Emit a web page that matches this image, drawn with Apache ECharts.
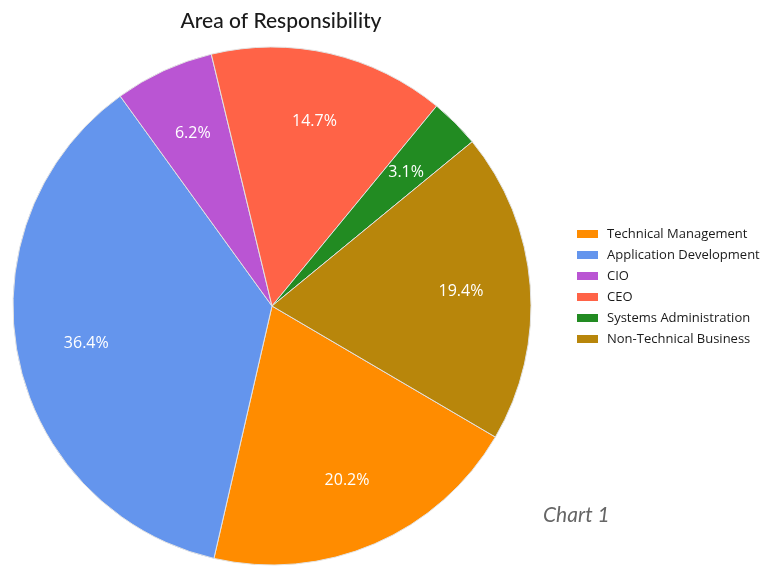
<!DOCTYPE html>
<html><head><meta charset="utf-8">
<script src="https://cdn.jsdelivr.net/npm/echarts@6/dist/echarts.min.js"></script>
<style>html,body{margin:0;padding:0;background:#fff}#c{width:780px;height:567px}</style>
</head><body><div id="c"></div>
<script>
const categories = ['Technical Management','Application Development','CIO','CEO','Systems Administration','Non-Technical Business'];
const counts = [26, 47, 8, 19, 4, 25];
const colors = ['#ff8c00','#6495ed','#ba55d3','#ff6347','#228b22','#b8860b'];
const titleText = 'Area of Responsibility';
const noteText = 'Chart 1';

const data = categories.map((n, i) => ({ name: n, value: counts[i] }));
const chart = echarts.init(document.getElementById('c'));
const center = [272, 306];
const R = 259;
chart.setOption({
  animation: false,
  color: colors,
  title: {
    text: titleText, left: 276, top: 6, textAlign: 'center',
    textStyle: { fontFamily: 'Lato', fontSize: 21, fontWeight: 500, color: '#1a1a1a' }
  },
  graphic: [{
    type: 'text', left: 543, top: 505,
    style: { text: noteText, font: 'italic 21px Lato', fill: '#666' }
  }],
  legend: {
    orient: 'vertical', left: 577, top: 227, padding: 0,
    icon: 'rect', itemWidth: 21, itemHeight: 8, itemGap: 7,
    itemStyle: { borderWidth: 0 },
    data: categories,
    textStyle: { fontFamily: 'Open Sans', fontSize: 13, fontWeight: 500, lineHeight: 14, color: '#1a1a1a', padding: [0,0,0,4] }
  },
  series: [{
    type: 'pie', center: center, radius: [0, R], startAngle: -30.4, clockwise: true,
    data: data, percentPrecision: 1,
    itemStyle: { borderColor: '#e2e2e2', borderWidth: 1 },
    label: { show: false }, labelLine: { show: false }, emphasis: { disabled: true }
  }, {
    type: 'pie', center: center, radius: [114, R], startAngle: -30.4, clockwise: true,
    data: data, percentPrecision: 1, silent: true, legendHoverLink: false,
    itemStyle: { color: 'rgba(0,0,0,0)', borderWidth: 0 },
    label: { show: true, position: 'inside', formatter: '{d}%', color: '#fff', fontFamily: 'Open Sans', fontSize: 16 },
    labelLine: { show: false }, emphasis: { disabled: true }
  }]
});
</script></body></html>
